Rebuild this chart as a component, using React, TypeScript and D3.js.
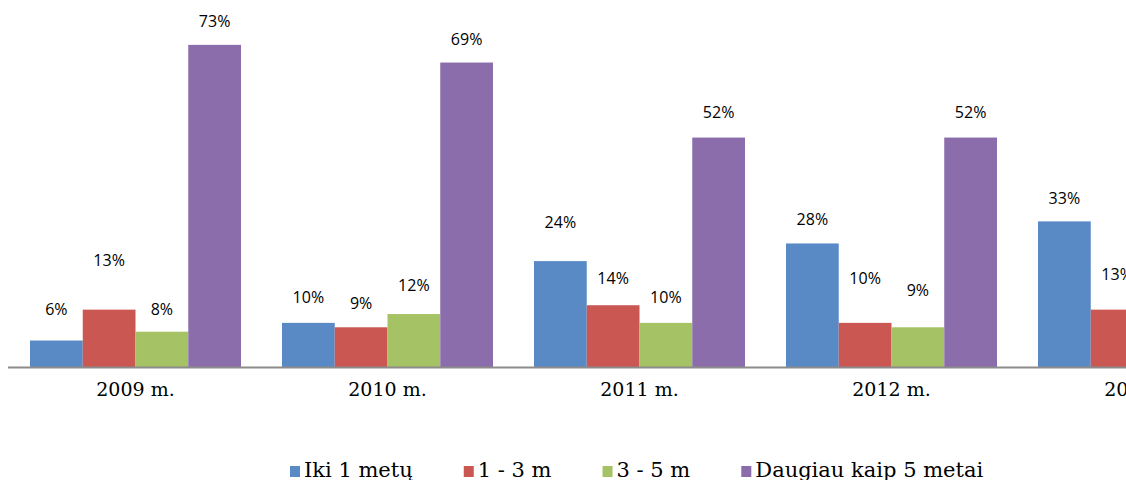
import React, { useEffect, useRef } from "react";
import * as d3 from "d3";

const years = ["2009 m.", "2010 m.", "2011 m.", "2012 m.", "2013 m."];
const seriesNames = ["Iki 1 metų", "1 - 3 m", "3 - 5 m", "Daugiau kaip 5 metai"];
const upTo1 = [0.06, 0.1, 0.24, 0.28, 0.33];
const from1to3 = [0.13, 0.09, 0.14, 0.1, 0.13];
const from3to5 = [0.08, 0.12, 0.1, 0.09, 0.1];
const over5 = [0.73, 0.69, 0.52, 0.52, 0.44];
const seriesValues = [upTo1, from1to3, from3to5, over5];

const colors = ["#5a8ac6", "#cb5752", "#a5c264", "#8a6daa"];
// how far each data label sits above its bar (px), per series then per year
const labelLift = [
  [31, 25, 39, 24, 23],
  [49, 24, 27, 44, 35],
  [22, 29, 25, 37, 25],
  [23, 23, 25, 25, 25],
];

const W = 1126,
  H = 480;

export default function App() {
  const ref = useRef<SVGSVGElement>(null);

  useEffect(() => {
    const svg = d3.select(ref.current);
    svg.selectAll("*").remove();

    const baseY = 367;
    const x = d3
      .scaleBand()
      .domain(years)
      .range([9.5, 9.5 + years.length * 252])
      .paddingInner(41 / 252)
      .paddingOuter(20.5 / 252);
    const xs = d3
      .scaleBand()
      .domain(seriesNames)
      .range([0, x.bandwidth()]);
    const y = d3.scaleLinear().domain([0, 0.8]).range([baseY, 14]);
    const fmt = d3.format(".0%");

    seriesNames.forEach((name, si) => {
      const g = svg.append("g");
      g.selectAll("rect")
        .data(seriesValues[si])
        .enter()
        .append("rect")
        .attr("x", (d, i) => x(years[i])! + xs(name)!)
        .attr("y", (d) => y(d))
        .attr("width", xs.bandwidth())
        .attr("height", (d) => baseY - y(d))
        .attr("fill", colors[si]);

      g.selectAll("text")
        .data(seriesValues[si])
        .enter()
        .append("text")
        .attr("x", (d, i) => x(years[i])! + xs(name)! + xs.bandwidth() / 2)
        .attr("y", (d, i) => y(d) - labelLift[si][i])
        .attr("dy", "0.35em")
        .attr("text-anchor", "middle")
        .style("font-family", "'Open Sans', sans-serif")
        .style("font-size", "16px")
        .attr("fill", "#000")
        .text((d) => fmt(d));
    });

    svg
      .append("line")
      .attr("x1", 8)
      .attr("x2", W)
      .attr("y1", baseY + 0.5)
      .attr("y2", baseY + 0.5)
      .attr("stroke", "#8c8c8c")
      .attr("stroke-width", 2);

    svg
      .append("g")
      .selectAll("text")
      .data(years)
      .enter()
      .append("text")
      .attr("x", (d) => x(d)! + x.bandwidth() / 2)
      .attr("y", 396)
      .attr("text-anchor", "middle")
      .style("font-family", "'DejaVu Serif', serif")
      .style("font-size", "19px")
      .attr("fill", "#000")
      .text((d) => d);

    // legend
    let lx = 290;
    const legend = svg.append("g");
    seriesNames.forEach((name, i) => {
      legend
        .append("rect")
        .attr("x", lx)
        .attr("y", 466)
        .attr("width", 10)
        .attr("height", 11)
        .attr("fill", colors[i]);
      const t = legend
        .append("text")
        .attr("x", lx + 14)
        .attr("y", 477)
        .style("font-family", "'DejaVu Serif', serif")
        .style("font-size", "21px")
        .attr("fill", "#000")
        .text(name);
      const w = (t.node() as SVGTextElement).getComputedTextLength();
      lx += 14 + w + 51;
    });
  }, []);

  return (
    <svg
      ref={ref}
      width={W}
      height={H}
      style={{ position: "absolute", left: 0, top: 0, background: "#fff" }}
    />
  );
}
